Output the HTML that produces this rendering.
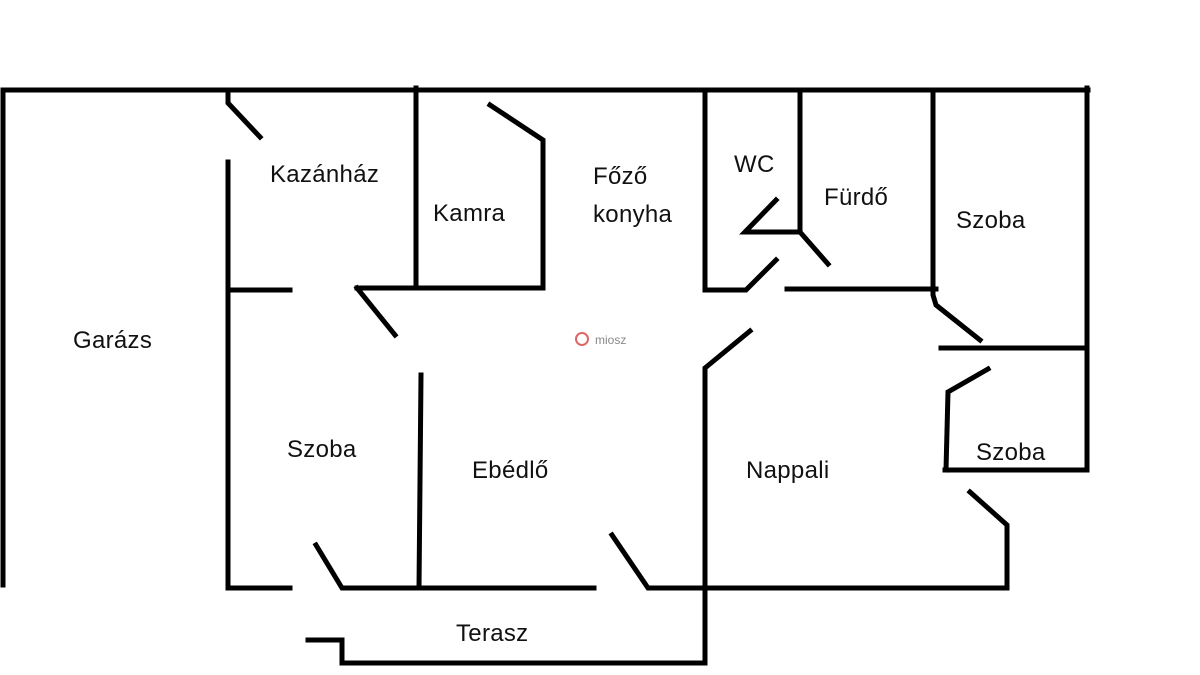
<!DOCTYPE html>
<html><head><meta charset="utf-8"><style>
html,body{margin:0;padding:0;background:#fff;}
svg{display:block;}
text{font-family:"Liberation Sans",sans-serif;font-size:24px;fill:#111;letter-spacing:0.3px;}
</style></head><body>
<svg width="1200" height="675" viewBox="0 0 1200 675" xmlns="http://www.w3.org/2000/svg">
<rect x="0" y="0" width="1200" height="675" fill="#fff"/>
<g stroke="#000" stroke-width="5" fill="none" stroke-linecap="square" stroke-linejoin="miter">
<polyline points="1088,90 3,90 3,585"/>
<polyline points="1087,88 1087,470 945,470"/>
<polyline points="228,90 228,103 260,137"/>
<line x1="228" y1="162" x2="228" y2="588"/>
<line x1="228" y1="290" x2="290" y2="290"/>
<line x1="357" y1="288" x2="395" y2="335"/>
<polyline points="357,288 543,288 543,140 490,105"/>
<line x1="416" y1="88" x2="416" y2="288"/>
<polyline points="705,90 705,290 746,290 776,260"/>
<polyline points="800,90 800,232 745,232 776,200"/>
<line x1="800" y1="232" x2="828" y2="264"/>
<line x1="787" y1="289" x2="936" y2="289"/>
<polyline points="933,90 933,295 936,305 980,340"/>
<line x1="941" y1="348" x2="1087" y2="348"/>
<polyline points="988,369 948,392 946,470"/>
<polyline points="970,492 1007,525 1007,588 648,588 612,535"/>
<polyline points="750,331 705,368 705,663 342,663 342,640 308,640"/>
<line x1="421" y1="375" x2="419" y2="588"/>
<line x1="228" y1="588" x2="290" y2="588"/>
<polyline points="316,545 342,588 594,588"/>
</g>
<text x="73" y="348">Garázs</text>
<text x="270" y="182">Kazánház</text>
<text x="433" y="221">Kamra</text>
<text x="593" y="184">Főző</text>
<text x="593" y="222">konyha</text>
<text x="734" y="172">WC</text>
<text x="824" y="205">Fürdő</text>
<text x="956" y="228">Szoba</text>
<text x="287" y="457">Szoba</text>
<text x="472" y="478">Ebédlő</text>
<text x="746" y="478">Nappali</text>
<text x="976" y="460">Szoba</text>
<text x="456" y="641">Terasz</text>
<text x="595" y="344" style="font-size:12px;fill:#888;letter-spacing:0">miosz</text>
<circle cx="582" cy="339" r="6" fill="none" stroke="#d66" stroke-width="2"/>
</svg>
</body></html>
